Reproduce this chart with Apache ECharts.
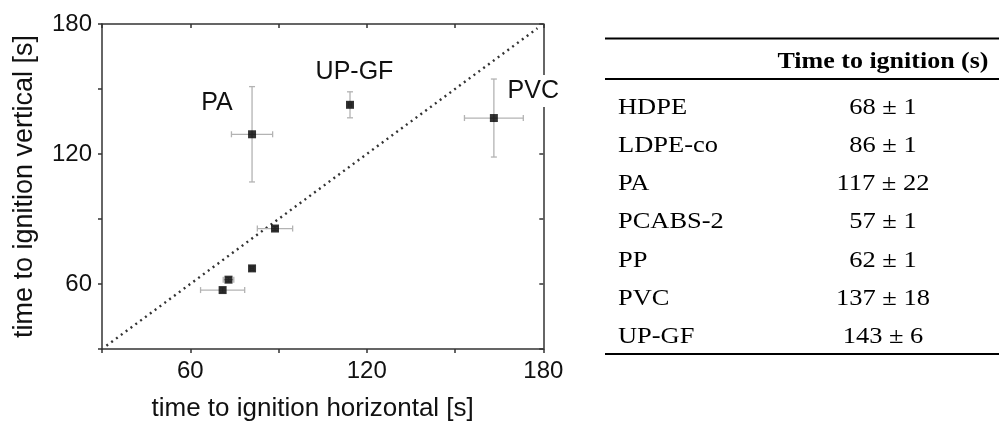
<!DOCTYPE html>
<html>
<head>
<meta charset="utf-8">
<script src="https://cdn.jsdelivr.net/npm/echarts@6/dist/echarts.min.js"></script>
<style>
html,body{margin:0;padding:0;background:#fff;}
#chart{width:999px;height:427px;}
</style>
</head>
<body>
<div id="chart"></div>
<script>
// ---- data ----
const materials = ['HDPE', 'LDPE-co', 'PA', 'PCABS-2', 'PP', 'PVC', 'UP-GF'];
const horizontalTime = [81, 88.8, 81, 71, 73, 163.2, 114.3];
const verticalTime = [67.2, 85.6, 129.1, 57.2, 62, 136.6, 142.7];
const horizontalErr = [0.6, 6, 7, 7.5, 1.8, 10, 0.6];
const verticalErr = [1, 1, 22, 1, 1, 18, 6];
const diagonalEnds = [31.5, 178];
const axisTickValues = [60, 120, 180];
const annotated = ['PA', 'UP-GF', 'PVC'];
const tableHeader = 'Time to ignition (s)';
const tableMean = [68, 86, 117, 57, 62, 137, 143];
const tableErr = [1, 1, 22, 1, 1, 18, 6];

const points = materials.map((m, i) => [horizontalTime[i], verticalTime[i], horizontalErr[i], verticalErr[i], m]);
const diagonal = diagonalEnds.map(v => [v, v]);

const chart = echarts.init(document.getElementById('chart'), null, {renderer: 'canvas'});
const sans = '"Liberation Sans", Arial, sans-serif';
const serif = '"Liberation Serif", "Times New Roman", serif';
const axisColor = '#333';

function labelFmt(v) { return axisTickValues.indexOf(v) >= 0 ? String(v) : ''; }

const baseAxis = {
  type: 'value', min: 30, max: 180, interval: 30,
  axisLine: {show: true, onZero: false, lineStyle: {color: axisColor, width: 1.5}},
  splitLine: {show: false}
};

// table graphics
const tableGraphics = [];
const ruleLeft = 605, ruleRight = 999;
[38.5, 79, 354].forEach(y => tableGraphics.push({
  type: 'line', shape: {x1: ruleLeft, y1: y, x2: ruleRight, y2: y},
  style: {stroke: '#000', lineWidth: 2}
}));
tableGraphics.push({
  type: 'text', x: 883, y: 62, scaleX: 1.13,
  style: {text: tableHeader, font: 'bold 23px ' + serif, fill: '#000', textAlign: 'center', textVerticalAlign: 'middle'}
});
const rowY0 = 108.3, rowStep = 38.05;
materials.forEach((m, i) => {
  const y = rowY0 + i * rowStep;
  tableGraphics.push({
    type: 'text', x: 618, y: y, scaleX: 1.15,
    style: {text: m, font: '23px ' + serif, fill: '#000', textAlign: 'left', textVerticalAlign: 'middle'}
  });
  tableGraphics.push({
    type: 'text', x: 883, y: y, scaleX: 1.15,
    style: {text: tableMean[i] + ' \u00B1 ' + tableErr[i], font: '23px ' + serif, fill: '#000', textAlign: 'center', textVerticalAlign: 'middle'}
  });
});

// annotation labels (PA, UP-GF, PVC)
const annotPos = [[217, 103], [354.5, 72.5], [533.3, 91]];
const annotGraphics = [
  {type: 'rect', shape: {x: 507, y: 75, width: 53, height: 32}, style: {fill: '#fff'}, z: 90}
];
annotated.forEach((t, i) => annotGraphics.push({
  type: 'text', x: annotPos[i][0], y: annotPos[i][1], z: 100,
  style: {text: t, font: '25px ' + sans, fill: '#111', textAlign: 'center', textVerticalAlign: 'middle'}
}));

const option = {
  animation: false,
  backgroundColor: '#fff',
  grid: {left: 102, top: 24, right: 455.7, bottom: 74.3, containLabel: false},
  xAxis: [
    Object.assign({}, baseAxis, {
      position: 'bottom',
      name: 'time to ignition horizontal [s]', nameLocation: 'middle', nameGap: 47,
      nameTextStyle: {fontFamily: sans, fontSize: 26, color: '#111', padding: [0, 20, 0, 0]},
      axisTick: {show: true, inside: false, length: 4, lineStyle: {color: axisColor, width: 1.5}},
      axisLabel: {show: true, formatter: labelFmt, margin: 10, fontFamily: sans, fontSize: 24, color: '#111', showMinLabel: true, showMaxLabel: true}
    }),
    Object.assign({}, baseAxis, {
      position: 'top',
      axisTick: {show: true, inside: true, length: 4, lineStyle: {color: axisColor, width: 1.5}},
      axisLabel: {show: false}
    })
  ],
  yAxis: [
    Object.assign({}, baseAxis, {
      position: 'left',
      name: 'time to ignition vertical [s]', nameLocation: 'middle', nameGap: 64, nameRotate: 90,
      nameTextStyle: {fontFamily: sans, fontSize: 27, color: '#111'},
      axisTick: {show: true, inside: false, length: 4, lineStyle: {color: axisColor, width: 1.5}},
      axisLabel: {show: true, formatter: labelFmt, margin: 10, fontFamily: sans, fontSize: 24, color: '#111', showMinLabel: true, showMaxLabel: true}
    }),
    Object.assign({}, baseAxis, {
      position: 'right',
      axisTick: {show: true, inside: true, length: 4, lineStyle: {color: axisColor, width: 1.5}},
      axisLabel: {show: false}
    })
  ],
  series: [
    {
      type: 'line', data: diagonal, xAxisIndex: 0, yAxisIndex: 0,
      symbol: 'none', silent: true,
      lineStyle: {color: '#333', width: 2.4, type: [2, 4]}, z: 2
    },
    {
      type: 'custom', xAxisIndex: 0, yAxisIndex: 0, data: points, z: 3,
      renderItem: function (params, api) {
        const x = api.value(0), y = api.value(1), ex = api.value(2), ey = api.value(3);
        const c = api.coord([x, y]);
        const l = api.coord([x - ex, y]), r = api.coord([x + ex, y]);
        const t = api.coord([x, y + ey]), b = api.coord([x, y - ey]);
        const cap = 3;
        const st = {stroke: '#b3b3b3', lineWidth: 1.3};
        return {
          type: 'group', children: [
            {type: 'line', shape: {x1: l[0], y1: c[1], x2: r[0], y2: c[1]}, style: st},
            {type: 'line', shape: {x1: l[0], y1: c[1] - cap, x2: l[0], y2: c[1] + cap}, style: st},
            {type: 'line', shape: {x1: r[0], y1: c[1] - cap, x2: r[0], y2: c[1] + cap}, style: st},
            {type: 'line', shape: {x1: c[0], y1: t[1], x2: c[0], y2: b[1]}, style: st},
            {type: 'line', shape: {x1: c[0] - cap, y1: t[1], x2: c[0] + cap, y2: t[1]}, style: st},
            {type: 'line', shape: {x1: c[0] - cap, y1: b[1], x2: c[0] + cap, y2: b[1]}, style: st}
          ]
        };
      }
    },
    {
      type: 'scatter', xAxisIndex: 0, yAxisIndex: 0,
      data: points.map(p => [p[0], p[1]]),
      symbol: 'rect', symbolSize: 8,
      itemStyle: {color: '#000'}, z: 5
    }
  ],
  graphic: {elements: tableGraphics.concat(annotGraphics)}
};
chart.setOption(option);
</script>
</body>
</html>
